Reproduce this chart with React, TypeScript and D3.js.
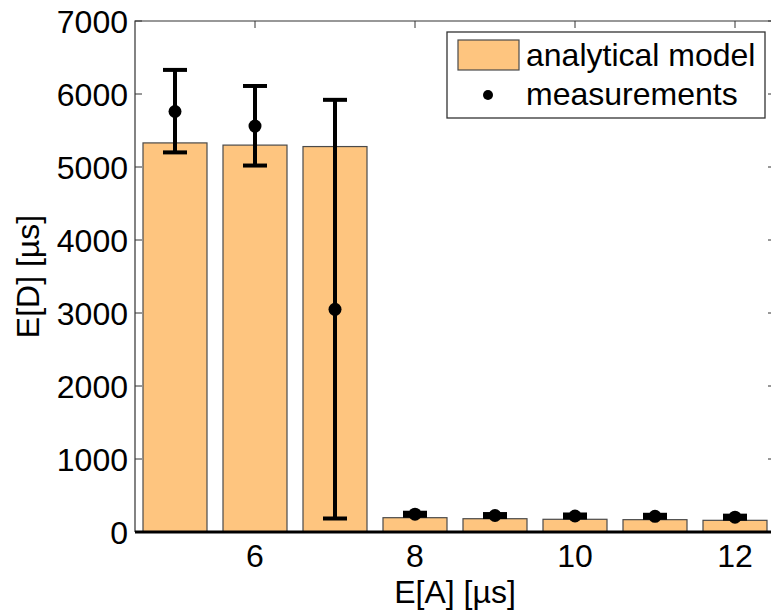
import { useEffect, useRef } from "react";
import * as d3 from "d3";

// E[A] values (us)
const arrivals = [5, 6, 7, 8, 9, 10, 11, 12];
// analytical model E[D] (us)
const modelDelay = [5330, 5300, 5280, 196, 182, 174, 169, 160];
// measurements: mean and error range
const measMean = [5760, 5560, 3050, 244, 226, 219, 215, 203];
const measLow = [5200, 5020, 185, 222, 205, 198, 194, 182];
const measHigh = [6330, 6110, 5920, 264, 246, 240, 236, 224];

const xTicks = [6, 8, 10, 12];
const yTicks = [0, 1000, 2000, 3000, 4000, 5000, 6000, 7000];

const legendItems = ["analytical model", "measurements"];

const W = 771;
const H = 610;
const FONT = "'Liberation Sans', Arial, sans-serif";
const FS = 32;
const BAR_FILL = "#fec57f";

function App() {
  const svgRef = useRef<SVGSVGElement>(null);

  useEffect(() => {
    const svg = d3.select(svgRef.current);
    svg.selectAll("*").remove();

    const x = d3.scaleLinear().domain([4.5, 12.5]).range([135, 775]);
    const y = d3.scaleLinear().domain([0, 7000]).range([532, 21]);
    const [x0, x1] = x.range();
    const [y0, y1] = y.range();

    svg.append("rect").attr("width", W).attr("height", H).attr("fill", "white");

    // ticks (inward, on all four sides)
    const tk = 7;
    const ticks = svg.append("g").attr("stroke", "#333").attr("stroke-width", 1);
    yTicks.forEach((v) => {
      ticks.append("line").attr("x1", x0).attr("x2", x0 + tk).attr("y1", y(v)).attr("y2", y(v));
      ticks.append("line").attr("x1", x1).attr("x2", x1 - tk).attr("y1", y(v)).attr("y2", y(v));
    });
    xTicks.forEach((v) => {
      ticks.append("line").attr("x1", x(v)).attr("x2", x(v)).attr("y1", y0).attr("y2", y0 - tk);
      ticks.append("line").attr("x1", x(v)).attr("x2", x(v)).attr("y1", y1).attr("y2", y1 + tk);
    });

    // bars
    svg
      .append("g")
      .selectAll("rect")
      .data(arrivals)
      .enter()
      .append("rect")
      .attr("x", (d) => x(d - 0.4))
      .attr("width", (d) => x(d + 0.4) - x(d - 0.4))
      .attr("y", (d, i) => y(modelDelay[i]))
      .attr("height", (d, i) => y(0) - y(modelDelay[i]))
      .attr("fill", BAR_FILL)
      .attr("stroke", "#4a4a4a")
      .attr("stroke-width", 1.2);

    // axes box
    svg
      .append("path")
      .attr("d", `M${x0},${y0}V${y1}H${x1}V${y0}`)
      .attr("fill", "none")
      .attr("stroke", "#333")
      .attr("stroke-width", 1.2);
    // bar baseline
    svg
      .append("line")
      .attr("x1", x0)
      .attr("x2", x1)
      .attr("y1", y(0))
      .attr("y2", y(0))
      .attr("stroke", "black")
      .attr("stroke-width", 3);

    // error bars
    const eb = svg.append("g").attr("stroke", "black").attr("stroke-width", 4);
    const cap = 12;
    arrivals.forEach((d, i) => {
      const cx = x(d);
      eb.append("line").attr("x1", cx).attr("x2", cx).attr("y1", y(measLow[i])).attr("y2", y(measHigh[i]));
      eb.append("line").attr("x1", cx - cap).attr("x2", cx + cap).attr("y1", y(measLow[i])).attr("y2", y(measLow[i]));
      eb.append("line").attr("x1", cx - cap).attr("x2", cx + cap).attr("y1", y(measHigh[i])).attr("y2", y(measHigh[i]));
    });
    svg
      .append("g")
      .selectAll("circle")
      .data(arrivals)
      .enter()
      .append("circle")
      .attr("cx", (d) => x(d))
      .attr("cy", (d, i) => y(measMean[i]))
      .attr("r", 6.5)
      .attr("fill", "black");

    // tick labels
    const lbl = svg.append("g").attr("font-family", FONT).attr("font-size", FS).attr("fill", "black");
    yTicks.forEach((v) => {
      lbl
        .append("text")
        .attr("x", x0 - 7)
        .attr("y", y(v))
        .attr("dy", "0.36em")
        .attr("text-anchor", "end")
        .text(v);
    });
    xTicks.forEach((v) => {
      lbl
        .append("text")
        .attr("x", x(v))
        .attr("y", 567)
        .attr("text-anchor", "middle")
        .text(v);
    });

    // axis titles
    lbl
      .append("text")
      .attr("x", (x0 + x1) / 2)
      .attr("y", 603)
      .attr("text-anchor", "middle")
      .text("E[A] [\u00b5s]");
    lbl
      .append("text")
      .attr("transform", `translate(39,${(y0 + y1) / 2}) rotate(-90)`)
      .attr("text-anchor", "middle")
      .text("E[D] [\u00b5s]");

    // legend
    const lg = svg.append("g");
    lg.append("rect")
      .attr("x", 447)
      .attr("y", 32)
      .attr("width", 318)
      .attr("height", 86)
      .attr("fill", "white")
      .attr("stroke", "#333")
      .attr("stroke-width", 1.3);
    lg.append("rect")
      .attr("x", 458)
      .attr("y", 40)
      .attr("width", 61)
      .attr("height", 30)
      .attr("fill", BAR_FILL)
      .attr("stroke", "#4a4a4a")
      .attr("stroke-width", 1.2);
    lg.append("circle").attr("cx", 488).attr("cy", 95).attr("r", 5).attr("fill", "black");
    legendItems.forEach((t, i) => {
      lg.append("text")
        .attr("x", 526)
        .attr("y", 66 + i * 39)
        .attr("font-family", FONT)
        .attr("font-size", FS)
        .attr("fill", "black")
        .text(t);
    });
  }, []);

  return (
    <svg
      ref={svgRef}
      width={W}
      height={H}
      style={{ position: "absolute", left: 0, top: 0 }}
    />
  );
}

export default App;
